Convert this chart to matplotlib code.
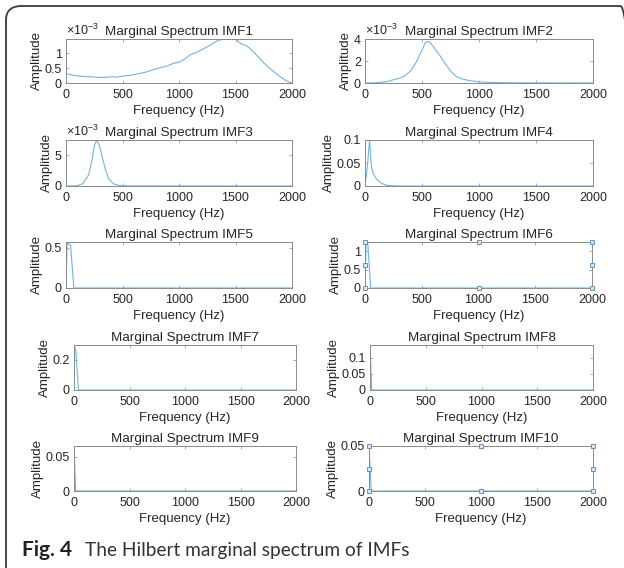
import matplotlib
matplotlib.use("Agg")
import matplotlib.pyplot as plt
from matplotlib.patches import FancyBboxPatch

plt.rcParams["font.family"] = ["Liberation Sans", "DejaVu Sans"]
plt.rcParams["mathtext.fontset"] = "custom"
plt.rcParams["mathtext.rm"] = "Liberation Sans"
plt.rcParams["mathtext.it"] = "Liberation Sans"

# --- data (frequency in Hz, amplitude) ---
imf1_f = [0, 50, 100, 150, 200, 250, 300, 350, 400, 450, 500, 550, 600, 650, 700,
          750, 800, 850, 900, 950, 1000, 1050, 1100, 1150, 1200, 1250, 1300, 1350,
          1400, 1450, 1500, 1550, 1600, 1650, 1700, 1750, 1800, 1850, 1900, 1950, 2000]
imf1_a = [0.32, 0.27, 0.24, 0.22, 0.21, 0.20, 0.19, 0.19, 0.21, 0.20, 0.23, 0.25,
          0.28, 0.32, 0.36, 0.42, 0.48, 0.53, 0.58, 0.66, 0.70, 0.80, 0.95, 1.02,
          1.12, 1.22, 1.33, 1.44, 1.47, 1.46, 1.48, 1.32, 1.25, 1.08, 0.88, 0.68,
          0.50, 0.35, 0.20, 0.07, 0.0]
imf2_f = [0, 50, 100, 150, 200, 250, 300, 350, 400, 450, 500, 530, 560, 600, 650,
          700, 750, 800, 850, 900, 1000, 1100, 1250, 1500, 2000]
imf2_a = [0.0, 0.01, 0.03, 0.07, 0.15, 0.30, 0.42, 0.65, 1.1, 1.9, 3.0, 3.7, 3.8,
          3.3, 2.6, 1.8, 1.1, 0.6, 0.38, 0.25, 0.10, 0.05, 0.02, 0.01, 0.0]
imf3_f = [0, 100, 150, 200, 230, 250, 270, 290, 320, 350, 380, 420, 470, 550, 2000]
imf3_a = [0.0, 0.05, 0.4, 1.8, 4.2, 6.5, 7.4, 6.9, 4.8, 2.6, 1.1, 0.35, 0.08, 0.01, 0.0]
imf4_f = [0, 20, 40, 55, 70, 100, 150, 200, 300, 2000]
imf4_a = [0.0, 0.04, 0.1, 0.045, 0.028, 0.015, 0.005, 0.001, 0.0, 0.0]
imf5_f = [0, 10, 40, 70, 2000]
imf5_a = [0.0, 0.56, 0.53, 0.0, 0.0]
imf6_f = [0, 10, 25, 50, 2000]
imf6_a = [0.0, 1.25, 1.2, 0.0, 0.0]
imf7_f = [0, 15, 40, 2000]
imf7_a = [0.3, 0.27, 0.0, 0.0]
imf8_f = [0, 15, 2000]
imf8_a = [0.14, 0.0, 0.0]
imf9_f = [0, 15, 2000]
imf9_a = [0.066, 0.0, 0.0]
imf10_f = [0, 20, 2000]
imf10_a = [0.05, 0.0, 0.0]

freqs = [imf1_f, imf2_f, imf3_f, imf4_f, imf5_f, imf6_f, imf7_f, imf8_f, imf9_f, imf10_f]
amps = [imf1_a, imf2_a, imf3_a, imf4_a, imf5_a, imf6_a, imf7_a, imf8_a, imf9_a, imf10_a]
y_tops = [1.48, 4, 7.5, 0.1, 0.57, 1.25, 0.3, 0.14, 0.066, 0.05]
y_ticks = [[0, 0.5, 1], [0, 2, 4], [0, 5], [0, 0.05, 0.1], [0, 0.5],
           [0, 0.5, 1], [0, 0.2], [0, 0.05, 0.1], [0, 0.05], [0, 0.05]]
y_ticklabels = [["0", "0.5", "1"], ["0", "2", "4"], ["0", "5"], ["0", "0.05", "0.1"],
                ["0", "0.5"], ["0", "0.5", "1"], ["0", "0.2"], ["0", "0.05", "0.1"],
                ["0", "0.05"], ["0", "0.05"]]
x_ticks = [0, 500, 1000, 1500, 2000]
scaled = [True, True, True, False, False, False, False, False, False, False]
selected = [False, False, False, False, False, True, False, False, False, True]

# axes boxes in pixels: left, top, right, bottom
boxes = [(66, 39, 292, 83), (365, 39, 593, 83),
         (66, 140, 292, 186), (365, 140, 593, 186),
         (66, 242, 292, 288), (365, 242, 592, 288),
         (74, 345, 296, 390), (370, 345, 593, 390),
         (74, 446, 296, 491), (369, 446, 593, 491)]

W, H = 624, 568
fig = plt.figure(figsize=(W / 100, H / 100), dpi=100)

line_color = "#72b2e4"
edge_color = "#8a8a8a"
text_color = "#262626"

for i in range(10):
    l, t, r, b = boxes[i]
    ax = fig.add_axes([l / W, 1 - b / H, (r - l) / W, (b - t) / H])
    ax.plot(freqs[i], amps[i], color=line_color, lw=0.8)
    ax.set_xlim(0, 2000)
    ax.set_ylim(0, y_tops[i])
    ax.set_xticks(x_ticks)
    ax.set_xticklabels([str(x) for x in x_ticks])
    ax.set_yticks(y_ticks[i])
    ax.set_yticklabels(y_ticklabels[i])
    ax.tick_params(direction="in", length=2.5, width=0.5, colors=edge_color,
                   labelcolor=text_color, labelsize=9, top=True, right=True, pad=3)
    ax.tick_params(axis="x", pad=4)
    for s in ax.spines.values():
        s.set_color(edge_color)
        s.set_linewidth(0.7)
    ax.set_xlabel("Frequency (Hz)", fontsize=9.5, color=text_color, labelpad=3)
    ax.set_ylabel("Amplitude", fontsize=9.5, color=text_color, labelpad=1)
    ax.set_title(f"Marginal Spectrum IMF{i + 1}", fontsize=9.7, color=text_color, pad=3)
    if scaled[i]:
        ax.text(0, 1.02, r"$\times10^{-3}$", transform=ax.transAxes, fontsize=9,
                color=text_color, ha="left", va="bottom")
    if selected[i]:
        hx = [0, 0.5, 1, 1, 1, 0.5, 0, 0]
        hy = [0, 0, 0, 0.5, 1, 1, 1, 0.5]
        ax.plot(hx, hy, ls="none", marker="s", ms=2.5, mfc="#d6e6f5", mec="#4a86c5",
                mew=0.6, transform=ax.transAxes, clip_on=False, zorder=5)

# rounded frame around the figure
frame = FancyBboxPatch((6 / W, 1 - 580 / H), 630 / W, 574 / H,
                       boxstyle="round,pad=0,rounding_size=0.025",
                       transform=fig.transFigure, fill=False, ec="#3a3a3a", lw=1.3,
                       clip_on=False)
fig.patches.append(frame)

cap_font = ["Lato", "DejaVu Sans"]
fig.text(22 / W, 1 - 556 / H, "Fig. 4", fontsize=15, fontweight="bold",
         family=cap_font, color="#222222", va="baseline")
fig.text(85 / W, 1 - 556 / H, "The Hilbert marginal spectrum of IMFs", fontsize=13.8,
         family=cap_font, color="#333333", va="baseline")

fig.savefig("out.png", dpi=100)
